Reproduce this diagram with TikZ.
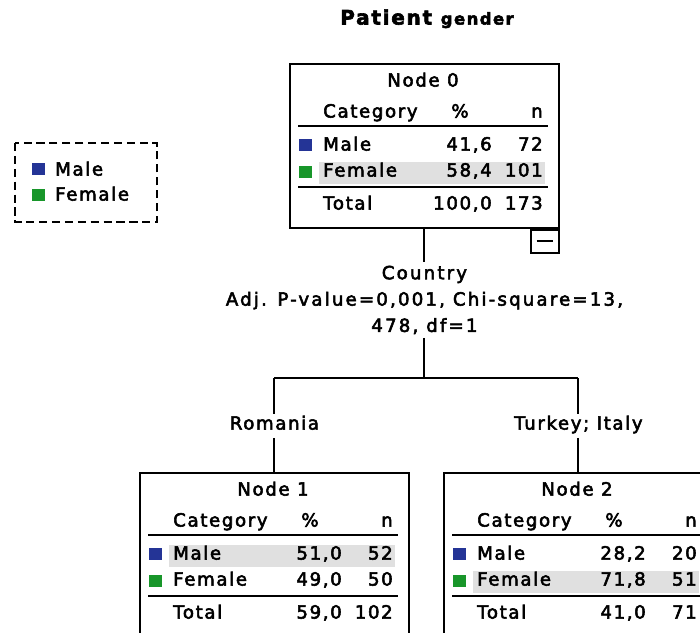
\documentclass[tikz,border=0pt]{standalone}
\usepackage{fontspec}
\newfontfamily\spss[LetterSpace=9,FakeBold=3]{DejaVu Sans}
\newfontfamily\spsswide[LetterSpace=12,FakeBold=3]{DejaVu Sans}
\usetikzlibrary{positioning}
\definecolor{malebl}{RGB}{36,52,150}
\definecolor{femgr}{RGB}{24,150,42}
\definecolor{rowgray}{RGB}{224,224,224}

\begin{document}
\begin{tikzpicture}[x=0.03cm,y=-0.03cm,
		font=\spss\fontsize{15.5}{18}\selectfont,
		cell/.style={inner sep=0pt, text height=1.4ex, text depth=0pt},
		catbox/.style={draw, line width=1.6pt, inner sep=0pt, minimum width=8.07cm, anchor=north west},
		key/.style={inner sep=0pt, minimum width=0.39cm, minimum height=0.36cm},
		rule/.style={line width=1.5pt},
		link/.style={line width=1.7pt}]
		\clip (0,0) rectangle (700,632);
		
		% title
		\node[cell] (title) at (427,21) {\fontsize{17}{20}\selectfont\bfseries Patient\ \fontsize{14}{16}\selectfont gender};
		
		% legend
		\draw[line width=1.5pt, dash pattern=on 7pt off 4pt] (15,143) rectangle (157,222);
		\node[key, fill=malebl] (lgmale) at (38,169) {};
		\node[cell, anchor=west] (lgmaletxt) at (55,172) {Male};
		\node[key, fill=femgr] (lgfem) at (38,195) {};
		\node[cell, anchor=west] (lgfemtxt) at (55,197) {Female};
		
		% the three nodes of the tree
		\foreach \nd/\L/\T/\H/\ttl/\mp/\mn/\fp/\fn/\tp/\tn/\hl in
			{n0/289/63/4.92cm/{Node 0}/{41,6}/72/{58,4}/101/{100,0}/173/110,
			 n1/139/472/5.2cm/{Node 1}/{51,0}/52/{49,0}/50/{59,0}/102/84,
			 n2/443/472/5.2cm/{Node 2}/{28,2}/20/{71,8}/51/{41,0}/71/110}
		{
			\fill[rowgray] (\L+30,\T+\hl-11) rectangle (\L+256,\T+\hl+11);
			\node[catbox, minimum height=\H] (\nd) at (\L,\T) {};
			\node[cell] (\nd-ttl) at (\L+134,\T+20) {\ttl};
			\node[cell, anchor=west] (\nd-cat) at (\L+34,\T+51) {Category};
			\node[cell] (\nd-pct) at (\L+171,\T+51) {\%};
			\node[cell, anchor=east] (\nd-n) at (\L+254,\T+51) {n};
			\draw[rule] (\L+9,\T+63) -- (\L+259,\T+63);
			\node[key, fill=malebl] (\nd-mkey) at (\L+16,\T+82) {};
			\node[cell, anchor=west] (\nd-m) at (\L+34,\T+84) {Male};
			\node[cell, anchor=east] (\nd-mp) at (\L+203,\T+84) {\mp};
			\node[cell, anchor=east] (\nd-mn) at (\L+254,\T+84) {\mn};
			\node[key, fill=femgr] (\nd-fkey) at (\L+16,\T+109) {};
			\node[cell, anchor=west] (\nd-f) at (\L+34,\T+110) {Female};
			\node[cell, anchor=east] (\nd-fp) at (\L+203,\T+110) {\fp};
			\node[cell, anchor=east] (\nd-fn) at (\L+254,\T+110) {\fn};
			\draw[rule] (\L+9,\T+124) -- (\L+259,\T+124);
			\node[cell, anchor=west] (\nd-t) at (\L+34,\T+143) {Total};
			\node[cell, anchor=east] (\nd-tp) at (\L+203,\T+143) {\tp};
			\node[cell, anchor=east] (\nd-tn) at (\L+254,\T+143) {\tn};
		}
		
		% collapse toggle
		\node[draw, line width=1.5pt, inner sep=0pt, minimum width=0.84cm, minimum height=0.69cm,
			anchor=north east] (n0tog) at (n0.south east) {};
		\draw[line width=1.5pt] ([xshift=-0.25cm]n0tog.center) -- ([xshift=0.25cm]n0tog.center);
		
		% split
		\node[inner xsep=0pt, inner ysep=3pt, align=center, anchor=north,
			font=\spsswide\fontsize{15.5}{22.5}\selectfont] (split0) at (n0.south |- 0,262)
			{Country\\Adj. P-value=0,001, Chi-square=13,\\478, df=1};
		\coordinate (fork) at (n0.south |- 0,378);
		\coordinate (forkl) at (n1.north |- fork);
		\coordinate (forkr) at (n2.north |- fork);
		\node[cell, inner ysep=7pt] (br1) at (n1.north |- 0,426) {Romania};
		\node[cell, inner ysep=7pt] (br2) at (n2.north |- 0,426) {Turkey; Italy};
		
		\draw[link] (n0.south) -- (split0.north);
		\draw[link] (split0.south) -- (fork);
		\draw[link] (forkl) -- (forkr);
		\draw[link] (forkl) -- (br1.north);
		\draw[link] (forkr) -- (br2.north);
		\draw[link] (br1.south) -- (n1.north);
		\draw[link] (br2.south) -- (n2.north);
	\end{tikzpicture}
\end{document}
